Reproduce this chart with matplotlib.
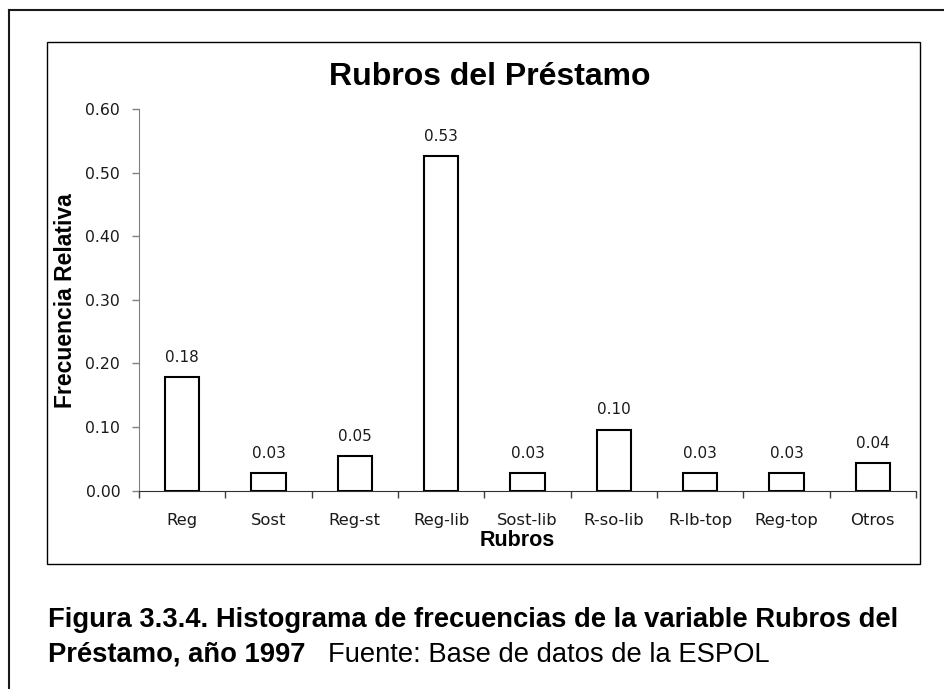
import numpy as np
import matplotlib
matplotlib.use('Agg')
import matplotlib.pyplot as plt
from matplotlib.lines import Line2D
from matplotlib.patches import Rectangle

# ---- data ----
categories = ['Reg', 'Sost', 'Reg-st', 'Reg-lib', 'Sost-lib', 'R-so-lib',
              'R-lb-top', 'Reg-top', 'Otros']
frecuencia = [0.178, 0.027, 0.054, 0.526, 0.027, 0.096, 0.027, 0.027, 0.043]
y_ticks = [0.00, 0.10, 0.20, 0.30, 0.40, 0.50, 0.60]
title = 'Rubros del Préstamo'
x_label = 'Rubros'
y_label = 'Frecuencia Relativa'
caption_bold_1 = 'Figura 3.3.4. Histograma de frecuencias de la variable Rubros del'
caption_bold_2 = 'Préstamo, año 1997'
caption_normal = 'Fuente: Base de datos de la ESPOL'

plt.rcParams['font.family'] = ['Liberation Sans', 'DejaVu Sans']
small_font = ['DejaVu Sans']

W, H = 944, 689
fig = plt.figure(figsize=(W / 100, H / 100), dpi=100)
fig.patch.set_facecolor('white')


def fx(px):
    return px / W


def fy(py):
    return 1 - py / H


# outer frame (left and top lines)
fig.add_artist(Line2D([fx(9), fx(9)], [0, fy(10)], color='#1a1a1a', lw=1.5,
                      transform=fig.transFigure))
fig.add_artist(Line2D([fx(9), 1], [fy(10), fy(10)], color='#1a1a1a', lw=1.5,
                      transform=fig.transFigure))
# chart area box
fig.add_artist(Rectangle((fx(47), fy(564)), fx(920) - fx(47), fy(42) - fy(564),
                         fill=False, lw=1.0, edgecolor='black',
                         transform=fig.transFigure))

ax = fig.add_axes([fx(139), fy(490.6), fx(916) - fx(139), fy(109) - fy(490.6)])
ax.patch.set_alpha(0)
x = np.arange(len(categories))
ax.bar(x, frecuencia, width=0.40, color='white', edgecolor='black',
       linewidth=1.5, zorder=3)
ax.set_xlim(-0.5, len(categories) - 0.5)
ax.set_ylim(0, 0.6)

ax.set_yticks(y_ticks)
ax.set_yticklabels([f'{v:.2f}' for v in y_ticks], fontsize=11.3,
                   family=small_font, color='#1a1a1a')
ax.tick_params(axis='y', length=5, width=1, color='#808080', pad=8.5)

ax.set_xticks(x)
ax.set_xticklabels(categories, fontsize=11.8, family=small_font, color='#1a1a1a')
ax.set_xticks(np.arange(-0.5, len(categories)), minor=True)
ax.tick_params(axis='x', which='major', length=0, pad=16)
ax.tick_params(axis='x', which='minor', length=5, width=1, color='#404040')

for s in ['top', 'right']:
    ax.spines[s].set_visible(False)
ax.spines['left'].set_color('#808080')
ax.spines['bottom'].set_color('#303030')
ax.spines['bottom'].set_zorder(4)

for xi, v in zip(x, frecuencia):
    ax.annotate(f'{v:.2f}', xy=(xi, v), xytext=(0, 11), textcoords='offset points',
                ha='center', va='baseline', fontsize=11, family=small_font,
                color='#1a1a1a')

fig.text(fx(490), fy(85), title, fontsize=23, fontweight='bold',
         ha='center', va='baseline')
fig.text(fx(517.5), fy(546), x_label, fontsize=15.5, fontweight='bold',
         ha='center', va='baseline')
fig.text(fx(65), fy(301), y_label, fontsize=16.5, fontweight='bold',
         ha='center', va='center', rotation=90)

fig.text(fx(48), fy(627), caption_bold_1, fontsize=19.7, fontweight='bold',
         ha='left', va='baseline')
fig.text(fx(48), fy(662), caption_bold_2, fontsize=19.7, fontweight='bold',
         ha='left', va='baseline')
fig.text(fx(328), fy(662), caption_normal, fontsize=19.7,
         ha='left', va='baseline')

fig.savefig('out.png', dpi=100)
